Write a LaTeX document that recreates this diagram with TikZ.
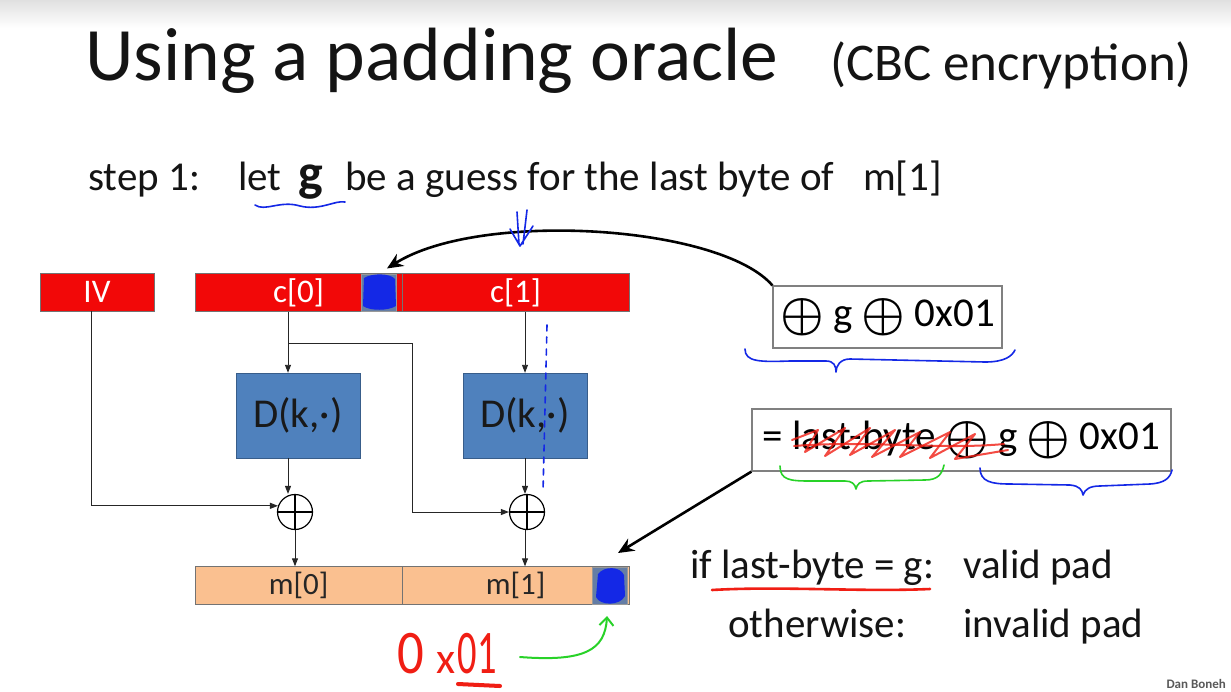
\documentclass[tikz,border=0pt]{standalone}
\usepackage{fontspec}
\setmainfont{Carlito}
\usetikzlibrary{arrows.meta,calc}
\definecolor{cred}{RGB}{242,8,8}
\definecolor{dblue}{RGB}{79,129,189}
\definecolor{dblueb}{RGB}{56,93,138}
\definecolor{morange}{RGB}{250,192,144}
\definecolor{pen}{RGB}{20,40,230}
\definecolor{penr}{RGB}{240,30,20}
\definecolor{peng}{RGB}{40,210,40}
\definecolor{patchc}{RGB}{100,125,165}
\newcommand{\fs}[1]{\fontsize{#1}{#1}\selectfont}
\newcommand{\xo}{\raisebox{-3pt}{\resizebox{!}{31pt}{$\boldsymbol{\oplus}$}}}
\usepackage{amsmath}
\begin{document}
\begin{tikzpicture}[x=1pt,y=-1pt,
  cbox/.style={draw=black!55, fill=cred, text=white, minimum height=38, inner sep=0, font=\fs{33}},
  mbox/.style={draw=black!55, fill=morange, text=black!85, minimum height=38, inner sep=0, font=\fs{31}},
  dbox/.style={draw=dblueb, fill=dblue, text=black!90, minimum width=124, minimum height=85, inner sep=0, font=\fs{41}},
  patch/.style={draw=black!40, fill=patchc, minimum width=35, minimum height=37, inner sep=0},
  xorn/.style={circle, draw, line width=1.2pt, minimum size=35, inner sep=0,
    path picture={\draw[line width=1.2pt] (path picture bounding box.north) -- (path picture bounding box.south)
      (path picture bounding box.west) -- (path picture bounding box.east);}},
  arr/.style={draw=black!85, line width=0.9pt, -{Triangle[length=8pt,width=6pt]}},
  tbox/.style={draw=black!50, line width=1.2pt, fill=white, inner sep=0, minimum height=62, font=\fs{41}},
  big/.style={line width=2.6pt, -{Stealth[length=16pt,width=14pt]}},
  hand/.style={line width=1.6pt, line cap=round, line join=round},
  txt/.style={inner sep=0, anchor=base west, font=\fs{41}, text=black!92}
]
\useasboundingbox (0,0) rectangle (1231,691);
\fill[white] (0,0) rectangle (1231,691);
\shade[top color=black!12, bottom color=white] (0,0) rectangle (1231,28);

% title
\node[txt, font=\fs{75.5}] (title) at (85,80) {Using a padding oracle};
\node[txt, font=\fs{53}] (sub) at (830,80) {(CBC encryption)};

% step line
\node[txt] (step) at (88,190) {step 1:};
\node[txt] (let) at (238,190) {let};
\node[txt, font=\fs{52}\bfseries] (g) at (298,190) {g};
\node[txt] (guess) at (345,190) {be a guess for the last byte of};
\node[txt] (m1t) at (863,190) {m[1]};

% blocks
\node[cbox, minimum width=114] (iv) at (97,292) {IV};
\node[cbox, minimum width=207] (c0) at (298.5,292.5) {c[0]};
\node[cbox, minimum width=227] (c1) at (515.5,292.5) {c[1]};
\node[patch] (c0p) at (378.5,292.5) {};
\fill[pen] (364,278) .. controls (372,273) and (390,273) .. (395,279) -- (396,306) .. controls (388,311) and (370,311) .. (363,306) -- cycle;

\node[dbox] (d1) at (298,415.5) {D(k,·)};
\node[dbox] (d2) at (525,415.5) {D(k,·)};

\node[xorn] (x1) at (295,512) {};
\node[xorn] (x2) at (527,512) {};

\node[mbox, minimum width=207] (m0) at (298.5,585.5) {m[0]};
\node[mbox, minimum width=227] (m1) at (515.5,585.5) {m[1]};
\node[patch] (m1p) at (610,585.5) {};
\fill[pen] (598,574) .. controls (604,566) and (620,566) .. (624,575) -- (625,596) .. controls (620,606) and (600,606) .. (596,597) -- cycle;

% connectors
\coordinate (a1) at (288,0);
\coordinate (a2) at (525,0);
\coordinate (ivl) at (91,0);
\coordinate (br) at (288,343);
\coordinate (bend) at (412,343);
\draw[arr] (c0.south -| a1) -- (d1.north -| a1);
\draw[arr] (br) -- (bend) |- (x2.west);
\draw[arr] (iv.south -| ivl) |- (x1.160);
\draw[arr] (d1.south -| a1) -- (a1 |- x1.north);
\draw[arr] (x1.south) -- (m0.north -| x1);
\draw[arr] (c1.south -| a2) -- (d2.north -| a2);
\draw[arr] (d2.south -| a2) -- (a2 |- x2.north);
\draw[arr] (x2.south -| a2) -- (m1.north -| a2);

% right side boxes
\node[tbox, minimum width=229] (b1) at (887.5,317) {\xo{} g \xo{} 0x01};
\node[tbox, minimum width=419] (b2) at (961.5,440) {= last-byte \xo{} g \xo{} 0x01};

\draw[big] (b1.north west) .. controls (720,225) and (480,210) .. (c0p.north) [shorten >=10pt];
\coordinate (tipB) at (618,553);
\draw[big] (b2.south west) -- (tipB);

\node[txt] (if) at (690,578) {if last-byte = g:};
\node[txt] (valid) at (963,578) {valid pad};
\node[txt] (other) at (728,637) {otherwise:};
\node[txt] (invalid) at (963,637) {invalid pad};

\node[inner sep=0, anchor=base east, font=\fs{13}\bfseries, text=black!65] (dan) at (1226,688) {Dan Boneh};

% handwriting
\node[inner sep=0, anchor=base west, text=penr, font=\fs{62}] (hx) at (397,673) {\scalebox{0.85}[1]{0}\kern13pt{\fs{44}x}\kern2pt\scalebox{0.62}[1]{01}};
\draw[hand, penr, line width=4pt] (458,684) -- (500,686);
\draw[hand, peng, line width=2pt, -{Straight Barb[length=8pt,width=14pt]}] (520,657) .. controls (585,662) and (605,650) .. (607,616);

\draw[hand, pen] (255,205) .. controls (265,212) and (280,200) .. (300,206) .. controls (320,211) and (335,200) .. (345,202);
\draw[hand, pen] (517,212) -- (519,244) (527,210) -- (523,244) (510,229) -- (520,246) -- (533,226);
\draw[hand, pen, dashed, dash pattern=on 6pt off 6pt] (547,325) -- (543,492);

\draw[hand, pen] (745,349) .. controls (745,362) and (760,362) .. (790,361) -- (826,361) .. controls (834,361) and (836,366) .. (836,372) .. controls (836,366) and (840,359) .. (850,359) -- (985,362) .. controls (1005,362) and (1012,356) .. (1015,350);
\draw[hand, peng] (780,466) .. controls (780,480) and (790,481) .. (810,481) -- (845,481) .. controls (852,481) and (855,484) .. (856,489) .. controls (857,484) and (860,481) .. (868,481) -- (925,480) .. controls (938,480) and (942,474) .. (944,465);
\draw[hand, pen] (980,468) .. controls (980,482) and (992,484) .. (1010,484) -- (1070,485) .. controls (1080,486) and (1082,490) .. (1083,495) .. controls (1085,489) and (1090,486) .. (1100,486) -- (1150,484) .. controls (1165,483) and (1170,478) .. (1172,470);

\draw[hand, penr, line width=2pt, opacity=0.8] (792,440) -- (818,430) -- (805,452) -- (845,428) -- (825,456) -- (870,428) -- (850,455) -- (895,430) -- (872,457) -- (920,432) -- (900,457) -- (950,432) -- (930,458) -- (975,434) -- (955,459) -- (1008,450);
\draw[hand, penr, line width=2pt, opacity=0.8] (794,446) .. controls (870,440) and (940,450) .. (1004,444);

\draw[hand, penr, line width=2.6pt] (712,590) .. controls (780,586) and (860,592) .. (930,589);
\end{tikzpicture}
\end{document}
